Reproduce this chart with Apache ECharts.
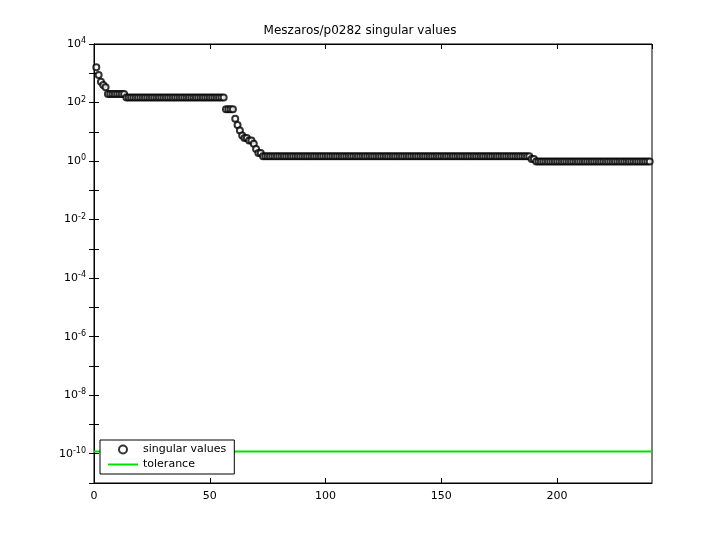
<!DOCTYPE html>
<html><head><meta charset="utf-8">
<script src="https://cdn.jsdelivr.net/npm/echarts@6/dist/echarts.min.js"></script>
<style>html,body{margin:0;background:#fff}#c{width:720px;height:540px}</style>
</head><body><div id="c"></div>
<script>
// singular values, read as [value, run length]
const svRuns = [[1600,1],[870,1],[510,1],[395,1],[330,1],[195,8],[148,43],[59,4],[28,1],[17,1],[11,1],[7.5,1],[6.2,2],[5,2],[3.9,1],[2.6,1],[1.9,2],[1.45,116],[1.17,2],[0.97,50]];
const tolerance = 1.2e-10;
const xMax = 241;
const title = 'Meszaros/p0282 singular values';

const sv = [];
let i = 1;
svRuns.forEach(([v, n]) => { for (let k = 0; k < n; k++) sv.push([i++, v]); });

const chart = echarts.init(document.getElementById('c'));
const sup = {a:{fontSize:8,verticalAlign:'bottom',padding:[0,0,6,0]}};
const ax = {axisLine:{lineStyle:{color:'#000'}},axisTick:{inside:true,length:5,lineStyle:{color:'#000'}},splitLine:{show:false}};
const yBase = Object.assign({type:'log',logBase:10,min:1e-11,max:1e4,interval:1},ax);
const xBase = Object.assign({type:'value',min:0,max:xMax,interval:50},ax);
chart.setOption({
  animation:false,
  title:{text:title,left:'center',top:20,textStyle:{fontSize:12,fontWeight:'normal',color:'#000',fontFamily:'DejaVu Sans'}},
  grid:{left:94,right:68,top:44,bottom:57,show:true,borderColor:'#000',borderWidth:1},
  xAxis:[Object.assign({},xBase,{axisLabel:{color:'#000',fontSize:11,fontFamily:'DejaVu Sans',showMaxLabel:false}}),
         Object.assign({},xBase,{position:'top',axisLabel:{show:false}})],
  yAxis:[Object.assign({},yBase,{
    axisLabel:{color:'#000',fontSize:11,fontFamily:'DejaVu Sans',rich:sup,
      formatter:v=>{const e=Math.round(Math.log10(v)); return e%2===0?'10{a|'+e+'}':'';}}}),
    Object.assign({},yBase,{position:'right',axisLabel:{show:false}})],
  legend:{left:100,top:440,orient:'vertical',itemGap:4,itemWidth:30,itemHeight:8,
    borderColor:'#000',borderWidth:1,padding:[4,8,4,8],backgroundColor:'#fff',
    textStyle:{fontSize:11,color:'#000',fontFamily:'DejaVu Sans'},
    data:[{name:'singular values',icon:'emptyCircle'},{name:'tolerance',icon:'path://M0,0L30,0L30,2L0,2Z'}]},
  series:[
    {name:'singular values',type:'scatter',data:sv,symbol:'emptyCircle',symbolSize:6,
      itemStyle:{color:'#000',borderColor:'#000',borderWidth:1.5}},
    {name:'tolerance',type:'line',data:[[0,tolerance],[xMax,tolerance]],symbol:'none',
      lineStyle:{color:'#00e000',width:2},itemStyle:{color:'#00e000'}}
  ]
});
</script></body></html>
